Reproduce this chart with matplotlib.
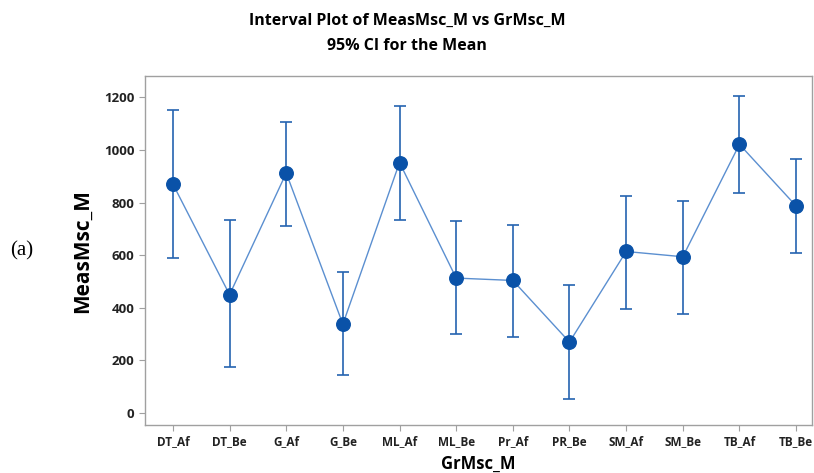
import numpy as np
import matplotlib.pyplot as plt

groups = ['DT_Af', 'DT_Be', 'G_Af', 'G_Be', 'ML_Af', 'ML_Be',
          'Pr_Af', 'PR_Be', 'SM_Af', 'SM_Be', 'TB_Af', 'TB_Be']
means = [870, 450, 912, 338, 952, 513, 504, 270, 614, 594, 1021, 787]
upper = [1150, 732, 1107, 538, 1166, 728, 716, 486, 825, 805, 1205, 967]
lower = [591, 176, 712, 143, 732, 301, 288, 53, 397, 377, 838, 608]
yticks = [0, 200, 400, 600, 800, 1000, 1200]

plt.rcParams['font.family'] = ['Open Sans', 'DejaVu Sans']

fig = plt.figure(figsize=(8.14, 4.73), dpi=100)
ax = fig.add_axes([0.178, 0.1015, 0.8195, 0.7375])

x = np.arange(1, len(groups) + 1)
m = np.array(means)
err = [m - np.array(lower), np.array(upper) - m]

# connecting line, then CI bars, then the mean dots on top
ax.plot(x, m, color='#5b8fd0', lw=1.0, zorder=2)
ax.errorbar(x, m, yerr=err, fmt='none', ecolor='#2563b0', elinewidth=1.2,
            capsize=4, capthick=1.2, zorder=3)
ax.scatter(x, m, s=95, color='#0a52a8', zorder=4)

ax.set_xlim(0.505, 12.28)
ax.set_ylim(-45, 1280)
ax.set_xticks(x)
ax.set_xticklabels(groups, fontsize=8.5, fontweight='bold')
ax.set_yticks(yticks)
ax.set_yticklabels([str(v) for v in yticks], fontsize=9.5, fontweight='bold')
ax.tick_params(axis='both', color='#a0a0a0', length=4, width=0.8, labelcolor='#222222')
ax.tick_params(axis='x', pad=3)
for s in ax.spines.values():
    s.set_color('#a0a0a0')
    s.set_linewidth(1.0)

ax.set_xlabel('GrMsc_M', fontsize=12, fontweight='bold', labelpad=5)
ax.set_ylabel('MeasMsc_M', fontsize=15, fontweight='bold', labelpad=8)

fig.text(0.5, 0.93, 'Interval Plot of MeasMsc_M vs GrMsc_M\n95% CI for the Mean',
         ha='center', va='center', fontsize=11.5, fontweight='bold', linespacing=1.75)
fig.text(0.027, 0.47, '(a)', fontsize=15, family='Liberation Serif', ha='center', va='center')

fig.savefig('out.png', dpi=100)
